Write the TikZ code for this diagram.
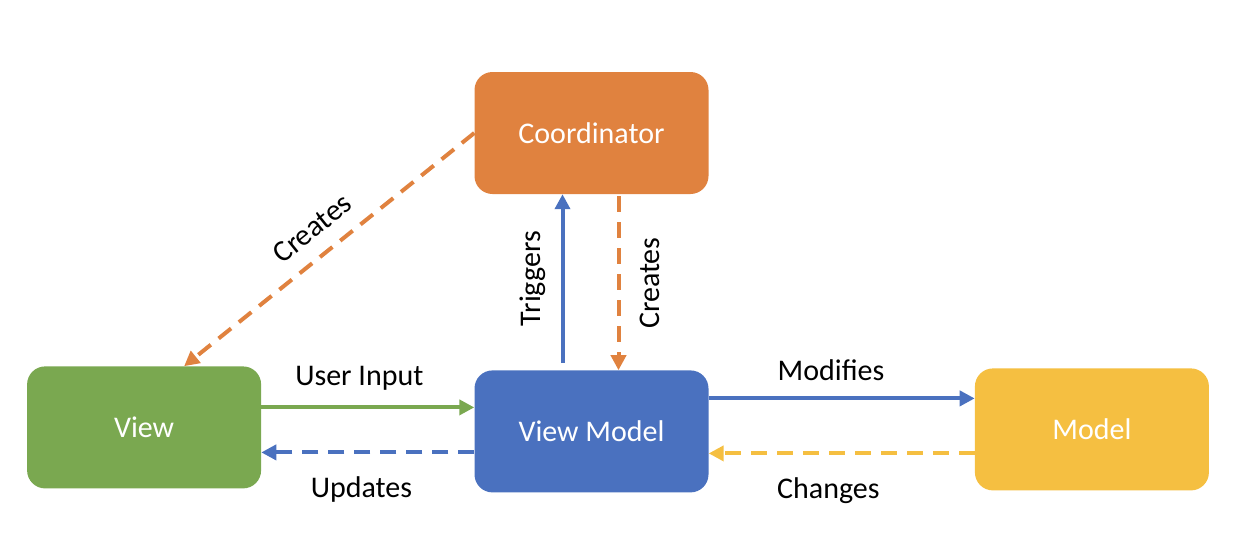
\documentclass[tikz,border=0pt]{standalone}
\usepackage{fontspec}
\setmainfont{Carlito}
\usetikzlibrary{positioning, arrows.meta, calc}
\definecolor{coordorange}{HTML}{E0823F}
\definecolor{viewgreen}{HTML}{7AA850}
\definecolor{vmblue}{HTML}{4A71BF}
\definecolor{modelyellow}{HTML}{F5BF41}
\begin{document}
\begin{tikzpicture}[x=1pt, y=-1pt,
		box/.style={rounded corners=18pt, minimum width=234pt, minimum height=122pt, text=white, font=\fontsize{30pt}{36pt}\selectfont},
		lbl/.style={font=\fontsize{30pt}{36pt}\selectfont, text=black, outer sep=14pt},
		arr/.style={line width=4pt, -{Triangle[length=15pt,width=15pt]}},
		dsh/.style={dash pattern=on 16pt off 10pt}]
		\useasboundingbox (0,0) rectangle (1252,550);
		\node[box, fill=coordorange] (coordinator) at (591.5,133) {Coordinator};
		\node[box, fill=vmblue, below=176pt of coordinator] (viewmodel) {View Model};
		\node[box, fill=viewgreen, left=213pt of viewmodel, yshift=4pt] (view) {View};
		\node[box, fill=modelyellow, right=266pt of viewmodel, yshift=2pt] (model) {Model};
		
		\path[draw, arr, dsh, coordorange] (coordinator.west) -- ([xshift=40pt]view.north) node[midway, lbl, sloped, above] {Creates};
		\path[draw, arr, vmblue] ([xshift=-29pt, yshift=7pt]viewmodel.north) -- ([xshift=-29pt]viewmodel.north |- coordinator.south) node[midway, lbl, rotate=90, anchor=south] {Triggers};
		\path[draw, arr, dsh, coordorange] ([xshift=27pt, yshift=-2pt]coordinator.south) -- ([xshift=27pt]coordinator.south |- viewmodel.north) node[midway, lbl, rotate=90, anchor=north, outer sep=18pt] {Creates};
		\path[draw, arr, viewgreen] ([yshift=20pt]view.east) -- ([yshift=20pt]view.east -| viewmodel.west) node[pos=0.46, lbl, above] {User Input};
		\path[draw, arr, dsh, vmblue] ([yshift=-21pt]viewmodel.west) -- ([yshift=-21pt]viewmodel.west -| view.east) node[pos=0.53, lbl, below, outer sep=21pt] {Updates};
		\path[draw, arr, vmblue] ([yshift=33pt]viewmodel.east) -- ([yshift=33pt]viewmodel.east -| model.west) node[pos=0.46, lbl, above] {Modifies};
		\path[draw, arr, dsh, modelyellow] ([yshift=-22pt]viewmodel.east -| model.west) -- ([yshift=-22pt]viewmodel.east) node[pos=0.55, lbl, below, outer sep=21pt] {Changes};
	\end{tikzpicture}
\end{document}
